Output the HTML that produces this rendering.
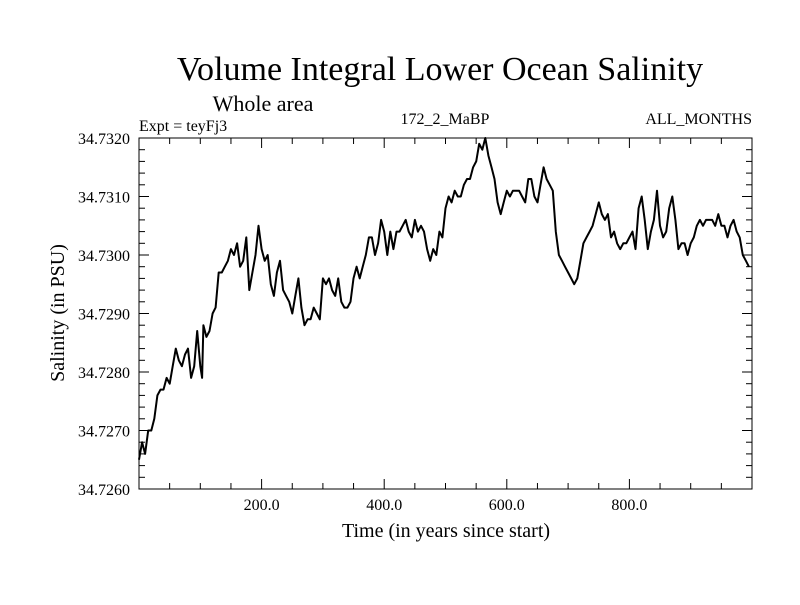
<!DOCTYPE html>
<html><head><meta charset="utf-8"><style>
body{margin:0;background:#fff}
svg text{font-family:"Liberation Serif",serif;fill:#000}
</style></head><body>
<svg id="chart" width="800" height="600">
<text x="440" y="80" font-size="34" text-anchor="middle">Volume Integral Lower Ocean Salinity</text>
<text x="263" y="111" font-size="22" text-anchor="middle">Whole area</text>
<text x="139" y="131" font-size="16">Expt = teyFj3</text>
<text x="445" y="124" font-size="16" text-anchor="middle">172_2_MaBP</text>
<text x="752" y="124" font-size="16" text-anchor="end">ALL_MONTHS</text>
<text x="446" y="537" font-size="20" text-anchor="middle">Time (in years since start)</text>
<text transform="translate(64,313) rotate(-90)" font-size="20" text-anchor="middle">Salinity (in PSU)</text>
<g id="axes"></g>
<rect x="139" y="138" width="613" height="351" fill="none" stroke="#000" stroke-width="1"/>
</svg>
<script>
const years=[0,5,10,15,20,25,30,35,40,45,50,55,60,65,70,75,80,85,90,95,100,103,105,110,115,120,125,130,135,140,145,150,155,160,165,170,175,180,185,190,195,200,205,210,215,220,225,230,235,240,245,250,255,260,265,270,275,280,285,290,295,300,305,310,315,320,325,330,335,340,345,350,355,360,365,370,375,380,385,390,395,400,405,410,415,420,425,430,435,440,445,450,455,460,465,470,475,480,485,490,495,500,505,510,515,520,525,530,535,540,545,550,555,560,565,570,575,580,585,590,595,600,605,610,615,620,625,630,635,640,645,650,655,660,665,670,675,680,685,690,695,700,705,710,715,720,725,730,735,740,745,750,755,760,765,770,775,780,785,790,795,800,805,810,815,820,825,830,835,840,845,850,855,860,865,870,875,880,885,890,895,900,905,910,915,920,925,930,935,940,945,950,955,960,965,970,975,980,985,990,995];
const salinity=[34.7265,34.7268,34.7266,34.7270,34.7270,34.7272,34.7276,34.7277,34.7277,34.7279,34.7278,34.7281,34.7284,34.7282,34.7281,34.7283,34.7284,34.7279,34.7281,34.7287,34.7281,34.7279,34.7288,34.7286,34.7287,34.7290,34.7291,34.7297,34.7297,34.7298,34.7299,34.7301,34.7300,34.7302,34.7298,34.7299,34.7303,34.7294,34.7297,34.7300,34.7305,34.7301,34.7299,34.7300,34.7295,34.7293,34.7297,34.7299,34.7294,34.7293,34.7292,34.7290,34.7293,34.7296,34.7291,34.7288,34.7289,34.7289,34.7291,34.7290,34.7289,34.7296,34.7295,34.7296,34.7294,34.7293,34.7296,34.7292,34.7291,34.7291,34.7292,34.7296,34.7298,34.7296,34.7298,34.7300,34.7303,34.7303,34.7300,34.7302,34.7306,34.7304,34.7300,34.7304,34.7301,34.7304,34.7304,34.7305,34.7306,34.7304,34.7303,34.7306,34.7304,34.7305,34.7304,34.7301,34.7299,34.7301,34.7300,34.7304,34.7303,34.7308,34.7310,34.7309,34.7311,34.7310,34.7310,34.7312,34.7313,34.7313,34.7315,34.7316,34.7319,34.7318,34.7320,34.7317,34.7315,34.7313,34.7309,34.7307,34.7309,34.7311,34.7310,34.7311,34.7311,34.7311,34.7310,34.7309,34.7313,34.7313,34.7310,34.7309,34.7312,34.7315,34.7313,34.7312,34.7311,34.7304,34.7300,34.7299,34.7298,34.7297,34.7296,34.7295,34.7296,34.7299,34.7302,34.7303,34.7304,34.7305,34.7307,34.7309,34.7307,34.7306,34.7307,34.7303,34.7304,34.7302,34.7301,34.7302,34.7302,34.7303,34.7304,34.7301,34.7308,34.7310,34.7306,34.7301,34.7304,34.7306,34.7311,34.7305,34.7303,34.7304,34.7308,34.7310,34.7306,34.7301,34.7302,34.7302,34.7300,34.7302,34.7303,34.7305,34.7306,34.7305,34.7306,34.7306,34.7306,34.7305,34.7307,34.7305,34.7305,34.7303,34.7305,34.7306,34.7304,34.7303,34.7300,34.7299,34.7298];
const xTickValues=[200,400,600,800];
const xTickLabels=["200.0","400.0","600.0","800.0"];
const yTickValues=[34.726,34.727,34.728,34.729,34.730,34.731,34.732];
const yTickLabels=["34.7260","34.7270","34.7280","34.7290","34.7300","34.7310","34.7320"];

const L=139,R=752,T=138,B=489,X0=0,X1=1000,Y0=34.726,Y1=34.732;
const sx=v=>L+(v-X0)/(X1-X0)*(R-L);
const sy=v=>B-(v-Y0)/(Y1-Y0)*(B-T);
const NS="http://www.w3.org/2000/svg";
const g=document.getElementById('axes');
function mk(tag,attrs){const e=document.createElementNS(NS,tag);for(const k in attrs)e.setAttribute(k,attrs[k]);g.appendChild(e);return e;}
// minor/major ticks x
for(let v=50;v<1000;v+=50){
  const len=(v%200===0)?10:6;
  const t1=mk('line',{x1:sx(v),x2:sx(v),y1:B,y2:B-len,stroke:'#000'});
  
  
  const t2=mk('line',{x1:sx(v),x2:sx(v),y1:T,y2:T+len,stroke:'#000'});
  
  
}
for(let i=1;i<30;i++){
  const v=Y0+i*0.0002;
  const len=(i%5===0)?10:6;
  const t1=mk('line',{x1:L,x2:L+len,y1:sy(v),y2:sy(v),stroke:'#000'});
  
  
  const t2=mk('line',{x1:R,x2:R-len,y1:sy(v),y2:sy(v),stroke:'#000'});
  
  
}
xTickValues.forEach((v,i)=>{
  const t=mk('text',{x:sx(v),y:510,'font-size':16,'text-anchor':'middle'});
  t.textContent=xTickLabels[i];
  
  
});
yTickValues.forEach((v,i)=>{
  const t=mk('text',{x:130,y:sy(v)+6,'font-size':16,'text-anchor':'end'});
  t.textContent=yTickLabels[i];
  
  
});
const d=years.map((v,i)=>(i?'L':'M')+sx(v).toFixed(1)+' '+sy(salinity[i]).toFixed(1)).join(' ');
const p=mk('path',{d:d,fill:'none',stroke:'#000','stroke-width':2,'stroke-linejoin':'round'});


</script>
</body></html>
